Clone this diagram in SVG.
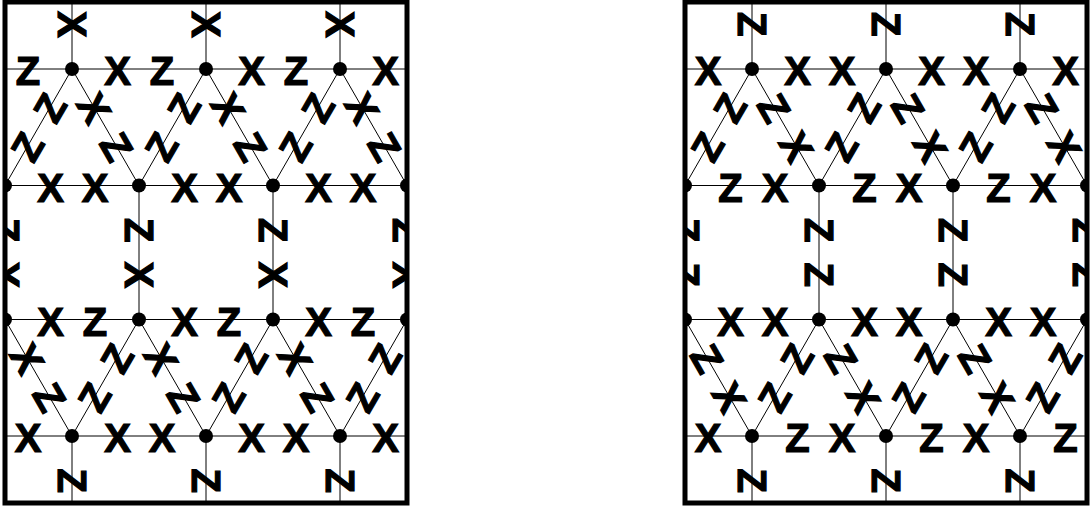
<svg xmlns="http://www.w3.org/2000/svg" width="1092" height="508" viewBox="0 0 1092 508">
<style>
.e{stroke:#000;stroke-width:1;fill:none}
.d{fill:#000}
.f{fill:none;stroke:#000;stroke-width:5}
text{font-family:"Liberation Sans",Arial,sans-serif;font-weight:bold;font-size:40px;text-anchor:middle;fill:#000;stroke:#000;stroke-width:1.2}
</style>
<defs>
<clipPath id="clip"><rect x="5" y="2" width="402" height="501"/></clipPath>
<g id="edges">
<line class="e" x1="5" y1="69" x2="407" y2="69"/>
<line class="e" x1="5" y1="185.5" x2="407" y2="185.5"/>
<line class="e" x1="5" y1="319.5" x2="407" y2="319.5"/>
<line class="e" x1="5" y1="436" x2="407" y2="436"/>
<line class="e" x1="72" y1="2" x2="72" y2="69"/>
<line class="e" x1="206" y1="2" x2="206" y2="69"/>
<line class="e" x1="340" y1="2" x2="340" y2="69"/>
<line class="e" x1="5" y1="185.5" x2="5" y2="319.5"/>
<line class="e" x1="139" y1="185.5" x2="139" y2="319.5"/>
<line class="e" x1="273" y1="185.5" x2="273" y2="319.5"/>
<line class="e" x1="407" y1="185.5" x2="407" y2="319.5"/>
<line class="e" x1="72" y1="436" x2="72" y2="503"/>
<line class="e" x1="206" y1="436" x2="206" y2="503"/>
<line class="e" x1="340" y1="436" x2="340" y2="503"/>
<line class="e" x1="72" y1="69" x2="5" y2="185.5"/>
<line class="e" x1="72" y1="69" x2="139" y2="185.5"/>
<line class="e" x1="206" y1="69" x2="139" y2="185.5"/>
<line class="e" x1="206" y1="69" x2="273" y2="185.5"/>
<line class="e" x1="340" y1="69" x2="273" y2="185.5"/>
<line class="e" x1="340" y1="69" x2="407" y2="185.5"/>
<line class="e" x1="5" y1="319.5" x2="72" y2="436"/>
<line class="e" x1="139" y1="319.5" x2="72" y2="436"/>
<line class="e" x1="139" y1="319.5" x2="206" y2="436"/>
<line class="e" x1="273" y1="319.5" x2="206" y2="436"/>
<line class="e" x1="273" y1="319.5" x2="340" y2="436"/>
<line class="e" x1="407" y1="319.5" x2="340" y2="436"/>
</g>
</defs>

<!-- LEFT PANEL -->
<g id="panel-left">
<g clip-path="url(#clip)">
<g id="connectors-left"><use href="#edges"/></g>
<g id="labels-left">
<text transform="translate(28 69)" y="16">Z</text>
<text transform="translate(117.5 69)" y="16">X</text>
<text transform="translate(162 69)" y="16">Z</text>
<text transform="translate(251.5 69)" y="16">X</text>
<text transform="translate(296 69)" y="16">Z</text>
<text transform="translate(385.5 69)" y="16">X</text>
<text transform="translate(72 24.33) rotate(90)" y="14.3">X</text>
<text transform="translate(206 24.33) rotate(90)" y="14.3">X</text>
<text transform="translate(340 24.33) rotate(90)" y="14.3">X</text>
<text transform="translate(49.67 107.83) rotate(-60)" y="14.3">Z</text>
<text transform="translate(94.33 107.83) rotate(60)" y="14.3">X</text>
<text transform="translate(183.67 107.83) rotate(-60)" y="14.3">Z</text>
<text transform="translate(228.33 107.83) rotate(60)" y="14.3">X</text>
<text transform="translate(317.67 107.83) rotate(-60)" y="14.3">Z</text>
<text transform="translate(362.33 107.83) rotate(60)" y="14.3">X</text>
<text transform="translate(27.33 146.67) rotate(-60)" y="14.3">Z</text>
<text transform="translate(116.67 146.67) rotate(60)" y="14.3">Z</text>
<text transform="translate(161.33 146.67) rotate(-60)" y="14.3">Z</text>
<text transform="translate(250.67 146.67) rotate(60)" y="14.3">Z</text>
<text transform="translate(295.33 146.67) rotate(-60)" y="14.3">Z</text>
<text transform="translate(384.67 146.67) rotate(60)" y="14.3">Z</text>
<text transform="translate(50.5 185.5)" y="16">X</text>
<text transform="translate(95 185.5)" y="16">X</text>
<text transform="translate(184.5 185.5)" y="16">X</text>
<text transform="translate(229 185.5)" y="16">X</text>
<text transform="translate(318.5 185.5)" y="16">X</text>
<text transform="translate(363 185.5)" y="16">X</text>
<text transform="translate(5 230.17) rotate(90)" y="14.3">Z</text>
<text transform="translate(139 230.17) rotate(90)" y="14.3">Z</text>
<text transform="translate(273 230.17) rotate(90)" y="14.3">Z</text>
<text transform="translate(407 230.17) rotate(90)" y="14.3">Z</text>
<text transform="translate(5 274.83) rotate(90)" y="14.3">X</text>
<text transform="translate(139 274.83) rotate(90)" y="14.3">X</text>
<text transform="translate(273 274.83) rotate(90)" y="14.3">X</text>
<text transform="translate(407 274.83) rotate(90)" y="14.3">X</text>
<text transform="translate(50.5 319.5)" y="16">X</text>
<text transform="translate(95 319.5)" y="16">Z</text>
<text transform="translate(184.5 319.5)" y="16">X</text>
<text transform="translate(229 319.5)" y="16">Z</text>
<text transform="translate(318.5 319.5)" y="16">X</text>
<text transform="translate(363 319.5)" y="16">Z</text>
<text transform="translate(27.33 358.33) rotate(60)" y="14.3">X</text>
<text transform="translate(116.67 358.33) rotate(-60)" y="14.3">Z</text>
<text transform="translate(161.33 358.33) rotate(60)" y="14.3">X</text>
<text transform="translate(250.67 358.33) rotate(-60)" y="14.3">Z</text>
<text transform="translate(295.33 358.33) rotate(60)" y="14.3">X</text>
<text transform="translate(384.67 358.33) rotate(-60)" y="14.3">Z</text>
<text transform="translate(49.67 397.17) rotate(60)" y="14.3">Z</text>
<text transform="translate(94.33 397.17) rotate(-60)" y="14.3">Z</text>
<text transform="translate(183.67 397.17) rotate(60)" y="14.3">Z</text>
<text transform="translate(228.33 397.17) rotate(-60)" y="14.3">Z</text>
<text transform="translate(317.67 397.17) rotate(60)" y="14.3">Z</text>
<text transform="translate(362.33 397.17) rotate(-60)" y="14.3">Z</text>
<text transform="translate(28 436)" y="16">X</text>
<text transform="translate(117.5 436)" y="16">X</text>
<text transform="translate(162 436)" y="16">X</text>
<text transform="translate(251.5 436)" y="16">X</text>
<text transform="translate(296 436)" y="16">X</text>
<text transform="translate(385.5 436)" y="16">X</text>
<text transform="translate(72 480.67) rotate(90)" y="14.3">Z</text>
<text transform="translate(206 480.67) rotate(90)" y="14.3">Z</text>
<text transform="translate(340 480.67) rotate(90)" y="14.3">Z</text>
</g>
<g id="L-A0"><circle class="d" cx="72" cy="69" r="7"/></g>
<g id="L-A1"><circle class="d" cx="206" cy="69" r="7"/></g>
<g id="L-A2"><circle class="d" cx="340" cy="69" r="7"/></g>
<g id="L-B0"><circle class="d" cx="5" cy="185.5" r="7"/></g>
<g id="L-B1"><circle class="d" cx="139" cy="185.5" r="7"/></g>
<g id="L-B2"><circle class="d" cx="273" cy="185.5" r="7"/></g>
<g id="L-B3"><circle class="d" cx="407" cy="185.5" r="7"/></g>
<g id="L-C0"><circle class="d" cx="5" cy="319.5" r="7"/></g>
<g id="L-C1"><circle class="d" cx="139" cy="319.5" r="7"/></g>
<g id="L-C2"><circle class="d" cx="273" cy="319.5" r="7"/></g>
<g id="L-C3"><circle class="d" cx="407" cy="319.5" r="7"/></g>
<g id="L-D0"><circle class="d" cx="72" cy="436" r="7"/></g>
<g id="L-D1"><circle class="d" cx="206" cy="436" r="7"/></g>
<g id="L-D2"><circle class="d" cx="340" cy="436" r="7"/></g>
</g>
<rect class="f" x="5" y="2" width="402" height="501"/>
</g>

<!-- RIGHT PANEL -->
<g id="panel-right" transform="translate(680 0)">
<g clip-path="url(#clip)">
<g id="connectors-right"><use href="#edges"/></g>
<g id="labels-right">
<text transform="translate(28 69)" y="16">X</text>
<text transform="translate(117.5 69)" y="16">X</text>
<text transform="translate(162 69)" y="16">X</text>
<text transform="translate(251.5 69)" y="16">X</text>
<text transform="translate(296 69)" y="16">X</text>
<text transform="translate(385.5 69)" y="16">X</text>
<text transform="translate(72 24.33) rotate(90)" y="14.3">Z</text>
<text transform="translate(206 24.33) rotate(90)" y="14.3">Z</text>
<text transform="translate(340 24.33) rotate(90)" y="14.3">Z</text>
<text transform="translate(49.67 107.83) rotate(-60)" y="14.3">Z</text>
<text transform="translate(94.33 107.83) rotate(60)" y="14.3">Z</text>
<text transform="translate(183.67 107.83) rotate(-60)" y="14.3">Z</text>
<text transform="translate(228.33 107.83) rotate(60)" y="14.3">Z</text>
<text transform="translate(317.67 107.83) rotate(-60)" y="14.3">Z</text>
<text transform="translate(362.33 107.83) rotate(60)" y="14.3">Z</text>
<text transform="translate(27.33 146.67) rotate(-60)" y="14.3">Z</text>
<text transform="translate(116.67 146.67) rotate(60)" y="14.3">X</text>
<text transform="translate(161.33 146.67) rotate(-60)" y="14.3">Z</text>
<text transform="translate(250.67 146.67) rotate(60)" y="14.3">X</text>
<text transform="translate(295.33 146.67) rotate(-60)" y="14.3">Z</text>
<text transform="translate(384.67 146.67) rotate(60)" y="14.3">X</text>
<text transform="translate(50.5 185.5)" y="16">Z</text>
<text transform="translate(95 185.5)" y="16">X</text>
<text transform="translate(184.5 185.5)" y="16">Z</text>
<text transform="translate(229 185.5)" y="16">X</text>
<text transform="translate(318.5 185.5)" y="16">Z</text>
<text transform="translate(363 185.5)" y="16">X</text>
<text transform="translate(5 230.17) rotate(90)" y="14.3">Z</text>
<text transform="translate(139 230.17) rotate(90)" y="14.3">Z</text>
<text transform="translate(273 230.17) rotate(90)" y="14.3">Z</text>
<text transform="translate(407 230.17) rotate(90)" y="14.3">Z</text>
<text transform="translate(5 274.83) rotate(90)" y="14.3">Z</text>
<text transform="translate(139 274.83) rotate(90)" y="14.3">Z</text>
<text transform="translate(273 274.83) rotate(90)" y="14.3">Z</text>
<text transform="translate(407 274.83) rotate(90)" y="14.3">Z</text>
<text transform="translate(50.5 319.5)" y="16">X</text>
<text transform="translate(95 319.5)" y="16">X</text>
<text transform="translate(184.5 319.5)" y="16">X</text>
<text transform="translate(229 319.5)" y="16">X</text>
<text transform="translate(318.5 319.5)" y="16">X</text>
<text transform="translate(363 319.5)" y="16">X</text>
<text transform="translate(27.33 358.33) rotate(60)" y="14.3">Z</text>
<text transform="translate(116.67 358.33) rotate(-60)" y="14.3">Z</text>
<text transform="translate(161.33 358.33) rotate(60)" y="14.3">Z</text>
<text transform="translate(250.67 358.33) rotate(-60)" y="14.3">Z</text>
<text transform="translate(295.33 358.33) rotate(60)" y="14.3">Z</text>
<text transform="translate(384.67 358.33) rotate(-60)" y="14.3">Z</text>
<text transform="translate(49.67 397.17) rotate(60)" y="14.3">X</text>
<text transform="translate(94.33 397.17) rotate(-60)" y="14.3">Z</text>
<text transform="translate(183.67 397.17) rotate(60)" y="14.3">X</text>
<text transform="translate(228.33 397.17) rotate(-60)" y="14.3">Z</text>
<text transform="translate(317.67 397.17) rotate(60)" y="14.3">X</text>
<text transform="translate(362.33 397.17) rotate(-60)" y="14.3">Z</text>
<text transform="translate(28 436)" y="16">X</text>
<text transform="translate(117.5 436)" y="16">Z</text>
<text transform="translate(162 436)" y="16">X</text>
<text transform="translate(251.5 436)" y="16">Z</text>
<text transform="translate(296 436)" y="16">X</text>
<text transform="translate(385.5 436)" y="16">Z</text>
<text transform="translate(72 480.67) rotate(90)" y="14.3">Z</text>
<text transform="translate(206 480.67) rotate(90)" y="14.3">Z</text>
<text transform="translate(340 480.67) rotate(90)" y="14.3">Z</text>
</g>
<g id="R-A0"><circle class="d" cx="72" cy="69" r="7"/></g>
<g id="R-A1"><circle class="d" cx="206" cy="69" r="7"/></g>
<g id="R-A2"><circle class="d" cx="340" cy="69" r="7"/></g>
<g id="R-B0"><circle class="d" cx="5" cy="185.5" r="7"/></g>
<g id="R-B1"><circle class="d" cx="139" cy="185.5" r="7"/></g>
<g id="R-B2"><circle class="d" cx="273" cy="185.5" r="7"/></g>
<g id="R-B3"><circle class="d" cx="407" cy="185.5" r="7"/></g>
<g id="R-C0"><circle class="d" cx="5" cy="319.5" r="7"/></g>
<g id="R-C1"><circle class="d" cx="139" cy="319.5" r="7"/></g>
<g id="R-C2"><circle class="d" cx="273" cy="319.5" r="7"/></g>
<g id="R-C3"><circle class="d" cx="407" cy="319.5" r="7"/></g>
<g id="R-D0"><circle class="d" cx="72" cy="436" r="7"/></g>
<g id="R-D1"><circle class="d" cx="206" cy="436" r="7"/></g>
<g id="R-D2"><circle class="d" cx="340" cy="436" r="7"/></g>
</g>
<rect class="f" x="5" y="2" width="402" height="501"/>
</g>
</svg>
